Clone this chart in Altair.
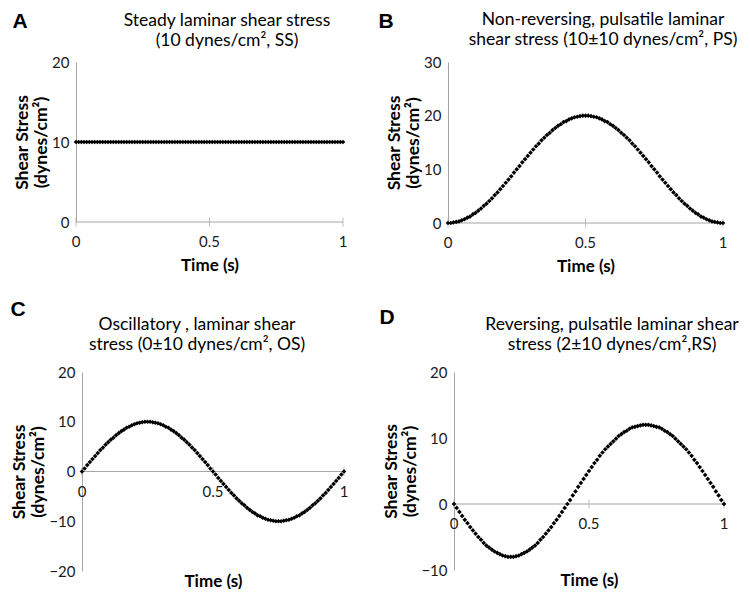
import altair as alt
import pandas as pd

# ---------------- data ----------------
TIME = [0.00, 0.01, 0.02, 0.03, 0.04, 0.05, 0.06, 0.07, 0.08, 0.09,
        0.10, 0.11, 0.12, 0.13, 0.14, 0.15, 0.16, 0.17, 0.18, 0.19,
        0.20, 0.21, 0.22, 0.23, 0.24, 0.25, 0.26, 0.27, 0.28, 0.29,
        0.30, 0.31, 0.32, 0.33, 0.34, 0.35, 0.36, 0.37, 0.38, 0.39,
        0.40, 0.41, 0.42, 0.43, 0.44, 0.45, 0.46, 0.47, 0.48, 0.49,
        0.50, 0.51, 0.52, 0.53, 0.54, 0.55, 0.56, 0.57, 0.58, 0.59,
        0.60, 0.61, 0.62, 0.63, 0.64, 0.65, 0.66, 0.67, 0.68, 0.69,
        0.70, 0.71, 0.72, 0.73, 0.74, 0.75, 0.76, 0.77, 0.78, 0.79,
        0.80, 0.81, 0.82, 0.83, 0.84, 0.85, 0.86, 0.87, 0.88, 0.89,
        0.90, 0.91, 0.92, 0.93, 0.94, 0.95, 0.96, 0.97, 0.98, 0.99,
        1.00]

SS = [10, 10, 10, 10, 10, 10, 10, 10, 10, 10,
      10, 10, 10, 10, 10, 10, 10, 10, 10, 10,
      10, 10, 10, 10, 10, 10, 10, 10, 10, 10,
      10, 10, 10, 10, 10, 10, 10, 10, 10, 10,
      10, 10, 10, 10, 10, 10, 10, 10, 10, 10,
      10, 10, 10, 10, 10, 10, 10, 10, 10, 10,
      10, 10, 10, 10, 10, 10, 10, 10, 10, 10,
      10, 10, 10, 10, 10, 10, 10, 10, 10, 10,
      10, 10, 10, 10, 10, 10, 10, 10, 10, 10,
      10, 10, 10, 10, 10, 10, 10, 10, 10, 10,
      10]

PS = [0.0, 0.0, 0.1, 0.2, 0.3, 0.5, 0.7, 1.0, 1.2, 1.6,
      1.9, 2.3, 2.7, 3.2, 3.6, 4.1, 4.6, 5.2, 5.7, 6.3,
      6.9, 7.5, 8.1, 8.7, 9.4, 10.0, 10.6, 11.3, 11.9, 12.5,
      13.1, 13.7, 14.3, 14.8, 15.4, 15.9, 16.4, 16.8, 17.3, 17.7,
      18.1, 18.4, 18.8, 19.0, 19.3, 19.5, 19.7, 19.8, 19.9, 20.0,
      20.0, 20.0, 19.9, 19.8, 19.7, 19.5, 19.3, 19.0, 18.8, 18.4,
      18.1, 17.7, 17.3, 16.8, 16.4, 15.9, 15.4, 14.8, 14.3, 13.7,
      13.1, 12.5, 11.9, 11.3, 10.6, 10.0, 9.4, 8.7, 8.1, 7.5,
      6.9, 6.3, 5.7, 5.2, 4.6, 4.1, 3.6, 3.2, 2.7, 2.3,
      1.9, 1.6, 1.2, 1.0, 0.7, 0.5, 0.3, 0.2, 0.1, 0.0,
      0.0]

OS = [0.0, 0.6, 1.3, 1.9, 2.5, 3.1, 3.7, 4.3, 4.8, 5.4,
      5.9, 6.4, 6.8, 7.3, 7.7, 8.1, 8.4, 8.8, 9.0, 9.3,
      9.5, 9.7, 9.8, 9.9, 10.0, 10.0, 10.0, 9.9, 9.8, 9.7,
      9.5, 9.3, 9.0, 8.8, 8.4, 8.1, 7.7, 7.3, 6.8, 6.4,
      5.9, 5.4, 4.8, 4.3, 3.7, 3.1, 2.5, 1.9, 1.3, 0.6,
      0.0, -0.6, -1.3, -1.9, -2.5, -3.1, -3.7, -4.3, -4.8, -5.4,
      -5.9, -6.4, -6.8, -7.3, -7.7, -8.1, -8.4, -8.8, -9.0, -9.3,
      -9.5, -9.7, -9.8, -9.9, -10.0, -10.0, -10.0, -9.9, -9.8, -9.7,
      -9.5, -9.3, -9.0, -8.8, -8.4, -8.1, -7.7, -7.3, -6.8, -6.4,
      -5.9, -5.4, -4.8, -4.3, -3.7, -3.1, -2.5, -1.9, -1.3, -0.6,
      0.0]

RS = [0.0, -0.6, -1.2, -1.8, -2.4, -2.9, -3.5, -4.0, -4.5, -5.0,
      -5.4, -5.9, -6.3, -6.6, -6.9, -7.2, -7.4, -7.6, -7.8, -7.9,
      -8.0, -8.0, -8.0, -7.9, -7.8, -7.6, -7.4, -7.2, -6.9, -6.6,
      -6.3, -5.9, -5.4, -5.0, -4.5, -4.0, -3.5, -2.9, -2.4, -1.8,
      -1.2, -0.6, 0.0, 0.6, 1.3, 1.9, 2.6, 3.2, 3.8, 4.4,
      5.0, 5.6, 6.2, 6.7, 7.3, 7.8, 8.3, 8.7, 9.1, 9.5,
      9.9, 10.3, 10.6, 10.9, 11.1, 11.4, 11.6, 11.7, 11.8, 11.9,
      12.0, 12.0, 12.0, 11.9, 11.8, 11.7, 11.6, 11.4, 11.1, 10.9,
      10.6, 10.3, 9.9, 9.5, 9.1, 8.7, 8.3, 7.8, 7.3, 6.7,
      6.2, 5.6, 5.0, 4.4, 3.8, 3.2, 2.6, 1.9, 1.3, 0.6,
      0.0]

X_TICKS = [0, 0.5, 1]
X_TICK_LABELS = ["0", "0.5", "1"]

TITLES = {
    "A": ["Steady laminar shear stress", "(10 dynes/cm², SS)"],
    "B": ["Non-reversing, pulsatile laminar", "shear stress (10±10 dynes/cm², PS)"],
    "C": ["Oscillatory , laminar shear", "stress (0±10 dynes/cm², OS)"],
    "D": ["Reversing, pulsatile laminar shear", "stress (2±10 dynes/cm²,RS)"],
}
Y_DOMAINS = {"A": [0, 20], "B": [0, 30], "C": [-20, 20], "D": [-10, 20]}
Y_TICKS = {"A": [0, 10, 20], "B": [0, 10, 20, 30], "C": [-20, -10, 0, 10, 20], "D": [-10, 0, 10, 20]}
Y_TITLE = ["Shear Stress", "(dynes/cm²)"]

GRAY = "#a6a6a6"
FONT = "Lato"


def panel(letter, vals, w, h, title_xy, xtitle_pad, letter_xy):
    df = pd.DataFrame({"t": TIME, "v": vals})
    ticks = pd.DataFrame({"t": X_TICKS, "v": [0] * len(X_TICKS), "lab": X_TICK_LABELS})
    zero = pd.DataFrame({"t": [X_TICKS[0]], "t2": [X_TICKS[-1]], "v": [0]})
    lab = pd.DataFrame({"s": [letter]})

    xs = alt.Scale(domain=[0, 1], nice=False, zero=False)
    ys = alt.Scale(domain=Y_DOMAINS[letter], nice=False, zero=False)
    xax = alt.Axis(labels=False, ticks=False, domain=False, grid=False, title="Time (s)",
                   titleFont=FONT, titleFontSize=17, titleFontWeight="bold",
                   titleColor="black", titlePadding=xtitle_pad)
    yax = alt.Axis(values=Y_TICKS[letter], grid=False, ticks=False, domainColor=GRAY,
                   labelFont=FONT, labelFontSize=15, labelColor="#1a1a1a", labelPadding=7,
                   title=Y_TITLE, titleFont=FONT, titleFontSize=17.5, titleFontWeight="bold",
                   titleColor="black", titlePadding=1, titleLineHeight=19)
    X = alt.X("t:Q", scale=xs, axis=xax)
    Y = alt.Y("v:Q", scale=ys, axis=yax)

    zline = alt.Chart(zero).mark_rule(color=GRAY, strokeWidth=1).encode(x=X, x2="t2:Q", y=Y)
    tk = alt.Chart(ticks).mark_tick(orient="vertical", color=GRAY, size=9, thickness=1).encode(x=X, y=Y)
    tl = alt.Chart(ticks).mark_text(font=FONT, fontSize=15, color="#1a1a1a", dy=20).encode(
        x=X, y=Y, text="lab:N")
    pts = alt.Chart(df).mark_point(shape="diamond", filled=True, color="black",
                                   size=22, opacity=1).encode(x=X, y=Y)
    let = alt.Chart(lab).mark_text(font="Liberation Sans", fontWeight="bold", fontSize=21,
                                   align="center", baseline="middle", color="black").encode(
        x=alt.value(letter_xy[0]), y=alt.value(letter_xy[1]), text="s:N")
    ttl = alt.Chart(lab).mark_text(font=FONT, fontSize=17.5, align="center", baseline="top",
                                   lineHeight=20, color="black").encode(
        x=alt.value(title_xy[0]), y=alt.value(title_xy[1]), text=alt.value(TITLES[letter]))

    return alt.layer(zline, tk, tl, pts, let, ttl).properties(width=w, height=h)


A = panel("A", SS, 267, 160, (151, -50), 35, (-56, -40))
B = panel("B", PS, 275, 161, (155, -51), 35, (-62, -40))
C = panel("C", OS, 262, 199, (115, -56), 2, (-64, -62))
D = panel("D", RS, 270, 198, (158, -56), 2, (-67, -54))

spacer = alt.Chart(pd.DataFrame({"a": [0]})).mark_point(opacity=0).properties(width=1, height=1)

row1 = alt.hconcat(A, B, spacing=105, bounds="flush")
row2 = alt.hconcat(spacer, alt.hconcat(C, D, spacing=110, bounds="flush"), spacing=5, bounds="flush")

chart = alt.vconcat(row1, row2, spacing=25).properties(
    padding={"left": 2, "top": 3, "right": 0, "bottom": 0}
).configure_view(stroke=None)

chart.save("out.html", embed_options={"renderer": "svg", "actions": False})
